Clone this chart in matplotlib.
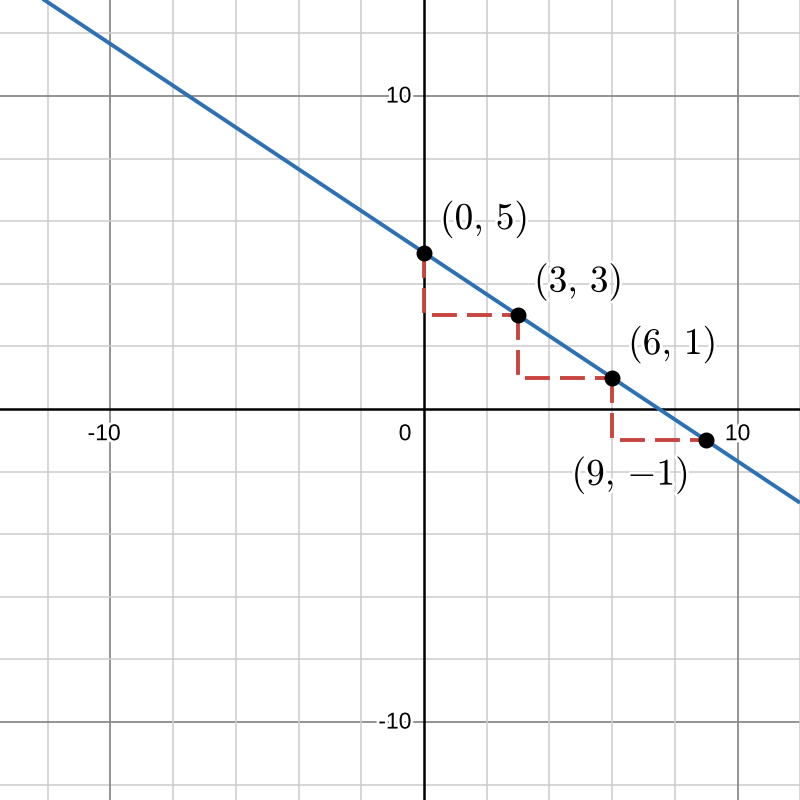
import numpy as np
import matplotlib.pyplot as plt
import matplotlib.patheffects as pe

# points on the line y = 5 - 2x/3
px = [0, 3, 6, 9]
py = [5, 3, 1, -1]
labels = [r'$(0,\,5)$', r'$(3,\,3)$', r'$(6,\,1)$', r'$(9,\,{-1})$']
slope = -2 / 3
intercept = 5

xlim = (-13.52, 11.99)
ylim = (-12.49, 13.07)

plt.rcParams['mathtext.fontset'] = 'cm'
fig = plt.figure(figsize=(8, 8), dpi=100)
ax = fig.add_axes([0, 0, 1, 1])
ax.set_xlim(xlim)
ax.set_ylim(ylim)
ax.axis('off')

# grid: minor every 2, major every 10
for v in np.arange(-14, 14, 2):
    major = v % 10 == 0
    c = '#8a8a8a' if major else '#cccccc'
    lw = 1.3 if major else 1.1
    if v != 0:
        ax.axvline(v, color=c, lw=lw, zorder=1)
        ax.axhline(v, color=c, lw=lw, zorder=1)
ax.axvline(0, color='black', lw=1.8, zorder=2)
ax.axhline(0, color='black', lw=1.8, zorder=2)

# tick labels
halo = [pe.withStroke(linewidth=4, foreground='white')]
tfont = dict(family='Liberation Sans', fontsize=16.5, color='black', zorder=3, path_effects=halo)
ax.text(-10.2, -0.42, '-10', ha='center', va='top', **tfont)
ax.text(10, -0.42, '10', ha='center', va='top', **tfont)
ax.text(-0.4, 10, '10', ha='right', va='center', **tfont)
ax.text(-0.4, -10, '-10', ha='right', va='center', **tfont)
ax.text(-0.4, -0.42, '0', ha='right', va='top', **tfont)

# main line
xs = np.array(xlim)
ax.plot(xs, slope * xs + intercept, color='#2d70b3', lw=2.8, zorder=4, solid_capstyle='butt')

# rise/run steps
for i in range(len(px) - 1):
    ax.plot([px[i], px[i], px[i + 1]], [py[i], py[i + 1], py[i + 1]],
            color='#c74440', lw=2.8, ls=(0, (6.4, 2.6)), zorder=3)

ax.scatter(px, py, s=110, color='black', zorder=5)

# point labels
lfont = dict(fontsize=27, color='black', zorder=6, path_effects=halo)
for i in range(3):
    ax.annotate(labels[i], (px[i], py[i]), xytext=(11.5, 24), textcoords='offset points',
                ha='left', va='center', **lfont)
ax.annotate(labels[3], (px[3], py[3]), xytext=(-13, -25), textcoords='offset points',
            ha='right', va='center', **lfont)

fig.savefig('out.png', dpi=100)
